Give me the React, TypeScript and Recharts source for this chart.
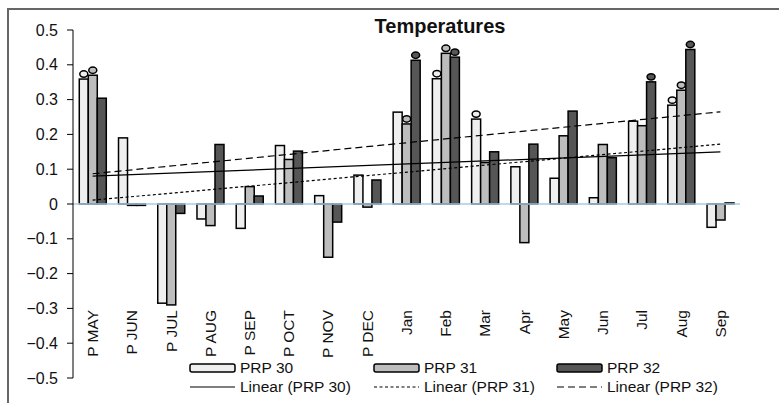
import React from 'react';
import { ComposedChart, Bar, XAxis, YAxis, ReferenceLine } from 'recharts';

const categories = ['P MAY', 'P JUN', 'P JUL', 'P AUG', 'P SEP', 'P OCT', 'P NOV', 'P DEC', 'Jan', 'Feb', 'Mar', 'Apr', 'May', 'Jun', 'Jul', 'Aug', 'Sep'];
const prp30 = [0.359, 0.19, -0.285, -0.043, -0.07, 0.168, 0.024, 0.083, 0.264, 0.36, 0.244, 0.107, 0.074, 0.018, 0.238, 0.284, -0.067];
const prp31 = [0.37, -0.004, -0.29, -0.062, 0.05, 0.128, -0.153, -0.009, 0.23, 0.433, 0.119, -0.111, 0.196, 0.171, 0.225, 0.327, -0.046];
const prp32 = [0.304, -0.004, -0.027, 0.171, 0.023, 0.152, -0.052, 0.069, 0.413, 0.422, 0.15, 0.172, 0.267, 0.133, 0.351, 0.444, 0.003];
const sig30 = [true, false, false, false, false, false, false, false, false, true, true, false, false, false, false, true, false];
const sig31 = [true, false, false, false, false, false, false, false, true, true, false, false, false, false, false, true, false];
const sig32 = [false, false, false, false, false, false, false, false, true, true, false, false, false, false, true, true, false];
// linear trend lines: value at first and last category
const trend30 = [0.08, 0.15];
const trend31 = [0.011, 0.172];
const trend32 = [0.087, 0.265];
const yTicks = [0.5, 0.4, 0.3, 0.2, 0.1, 0, -0.1, -0.2, -0.3, -0.4, -0.5];
const seriesNames = ['PRP 30', 'PRP 31', 'PRP 32'];
const trendNames = ['Linear (PRP 30)', 'Linear (PRP 31)', 'Linear (PRP 32)'];

const FILLS = ['#efefef', '#bdbdbd', '#565656'];
const DASHES = [undefined, '3 2.5', '7 4'];
const FONT = '"Liberation Sans", Arial, sans-serif';

const data = categories.map((name, i) => ({ name, prp30: prp30[i], prp31: prp31[i], prp32: prp32[i] }));

const makeShape = (sig: boolean[], fill: string) => (props: any) => {
  const { x, y, width, height, index } = props;
  const top = Math.min(y, y + height);
  const h = Math.abs(height);
  return (
    <g>
      <rect x={x} y={top} width={width} height={h} fill={fill} stroke="#000" strokeWidth={1.5} />
      {sig[index] && (
        <ellipse cx={x + width / 2} cy={top - 5} rx={4} ry={3.2} fill={fill} stroke="#000" strokeWidth={1.5} />
      )}
    </g>
  );
};

const XTick = (props: any) => {
  const { x, y, payload } = props;
  return (
    <text transform={`translate(${x},${y - 68}) rotate(-90)`} textAnchor="end" dy="0.35em" fontSize={15.5} fill="#111" fontFamily={FONT}>
      {payload.value}
    </text>
  );
};

const fmtY = (v: number) => (v === 0 ? '0' : v < 0 ? '\u2212' + Math.abs(v).toFixed(1) : v.toFixed(1));

const first = categories[0];
const last = categories[categories.length - 1];

const Legend = () => {
  const cols = [190, 374, 557];
  return (
    <svg width={779} height={403} style={{ position: 'absolute', left: 0, top: 0, pointerEvents: 'none' }}>
      {seriesNames.map((n, i) => (
        <g key={n}>
          <rect x={cols[i]} y={364} width={45} height={8} rx={2} fill={FILLS[i]} stroke="#000" strokeWidth={1.5} />
          <text x={cols[i] + 50} y={368} dy="0.35em" fontSize={15.5} fill="#111" fontFamily={FONT}>{n}</text>
          <line x1={cols[i]} x2={cols[i] + 45} y1={387} y2={387} stroke="#000" strokeWidth={1.2} strokeDasharray={DASHES[i]} />
          <text x={cols[i] + 50} y={387} dy="0.35em" fontSize={15.5} fill="#111" fontFamily={FONT}>{trendNames[i]}</text>
        </g>
      ))}
    </svg>
  );
};

export default function App() {
  return (
    <div style={{ position: 'absolute', left: 0, top: 0, width: 779, height: 403, overflow: 'hidden', background: '#fff', fontFamily: FONT }}>
      <div style={{ position: 'absolute', left: 7, top: 8, width: 900, height: 600, borderLeft: '2px solid #666', borderTop: '2px solid #666' }} />
      <ComposedChart width={779} height={403} data={data} margin={{ top: 30, right: 39, bottom: 0, left: 0 }} barCategoryGap="16%" barGap={0}>
        <XAxis dataKey="name" height={25} axisLine={false} tickLine={false} tickSize={0} tickMargin={0} interval={0} tick={<XTick />} />
        <YAxis
          width={73}
          domain={[-0.5, 0.5]}
          ticks={yTicks}
          interval={0}
          tickFormatter={fmtY}
          axisLine={{ stroke: '#000', strokeWidth: 1 }}
          tickLine={{ stroke: '#000', strokeWidth: 1 }}
          tickSize={6}
          tickMargin={9}
          tick={{ fontSize: 16, fill: '#111', fontFamily: FONT }}
        />
        <Bar dataKey="prp30" fill={FILLS[0]} isAnimationActive={false} shape={makeShape(sig30, FILLS[0])} />
        <Bar dataKey="prp31" fill={FILLS[1]} isAnimationActive={false} shape={makeShape(sig31, FILLS[1])} />
        <Bar dataKey="prp32" fill={FILLS[2]} isAnimationActive={false} shape={makeShape(sig32, FILLS[2])} />
        <ReferenceLine y={0} stroke="#a9cbe8" strokeWidth={1.5} />
        <ReferenceLine segment={[{ x: first, y: trend30[0] }, { x: last, y: trend30[1] }]} stroke="#000" strokeWidth={1.2} />
        <ReferenceLine segment={[{ x: first, y: trend31[0] }, { x: last, y: trend31[1] }]} stroke="#000" strokeWidth={1.2} strokeDasharray={DASHES[1]} />
        <ReferenceLine segment={[{ x: first, y: trend32[0] }, { x: last, y: trend32[1] }]} stroke="#000" strokeWidth={1.2} strokeDasharray={DASHES[2]} />
      </ComposedChart>
      <div style={{ position: 'absolute', left: 340, top: 16, width: 200, textAlign: 'center', fontWeight: 'bold', fontSize: 20, lineHeight: '20px', color: '#111' }}>
        Temperatures
      </div>
      <Legend />
    </div>
  );
}
